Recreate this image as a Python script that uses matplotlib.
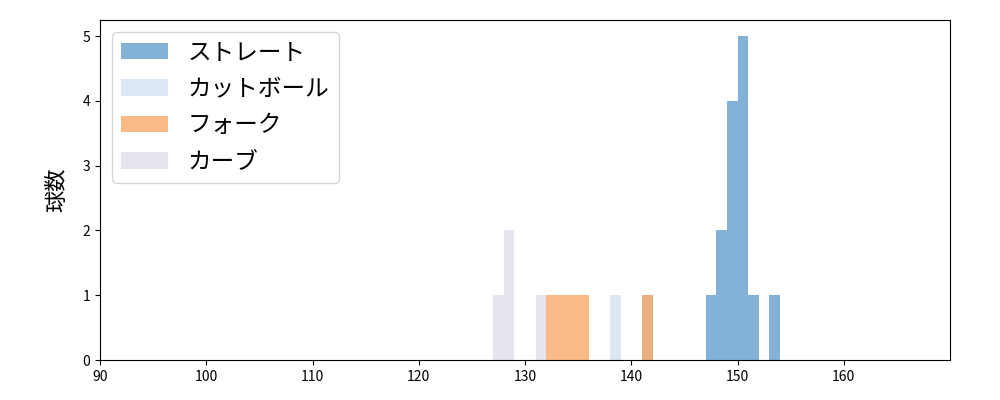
import numpy as np
import matplotlib
matplotlib.use('Agg')
import matplotlib.pyplot as plt

plt.rcParams['font.family'] = ['Noto Sans CJK JP', 'DejaVu Sans']

# pitch speeds (km/h), one entry per pitch
straight = [147, 148, 148, 149, 149, 149, 149, 150, 150, 150, 150, 150, 151, 153]
cutter   = [138, 141]
fork     = [132, 133, 134, 135, 141]
curve    = [127, 128, 128, 131]

names  = ['ストレート', 'カットボール', 'フォーク', 'カーブ']
colors = ['#0b67b1', '#b9d1e9', '#fb7715', '#cdcde1']

bins = np.arange(90, 171, 1)

fig, ax = plt.subplots(figsize=(10, 4), dpi=100)
for data, name, c in zip([straight, cutter, fork, curve], names, colors):
    ax.hist(data, bins=bins, color=c, alpha=0.5, label=name)

ax.set_xlim(90, 170)
ax.set_xticks(np.arange(90, 161, 10))
ax.set_ylim(0, 5.25)
ax.set_yticks(range(0, 6))
ax.set_ylabel('球数', fontsize=16, labelpad=10)
ax.legend(loc='upper left', fontsize=17, labelspacing=0.57)

plt.subplots_adjust(left=0.1, right=0.95, top=0.95, bottom=0.1)
plt.savefig('out.png')
